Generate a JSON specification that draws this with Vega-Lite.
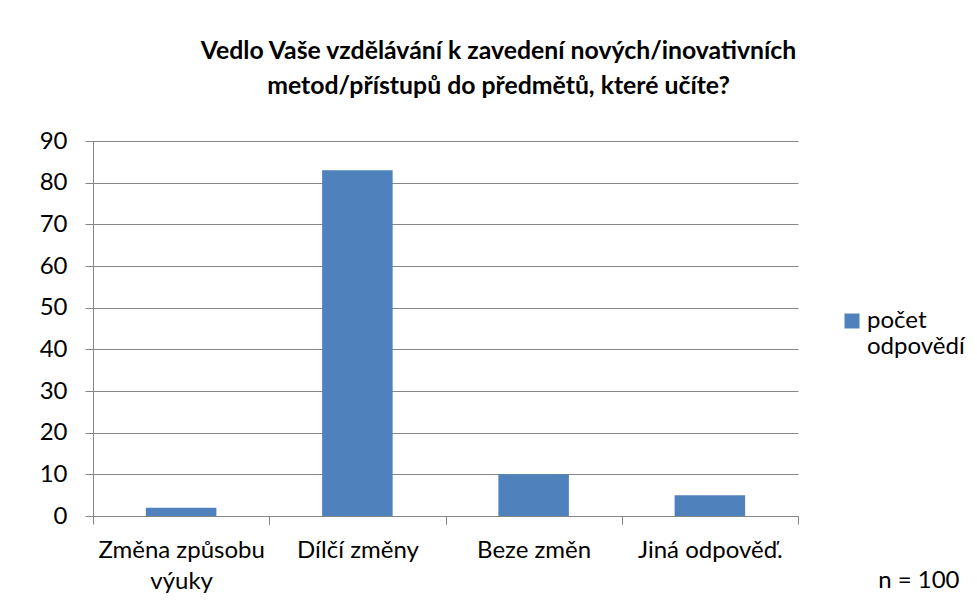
{
  "$schema": "https://vega.github.io/schema/vega-lite/v6.json",
  "width": 705,
  "height": 375,
  "autosize": {"type": "none"},
  "padding": {"left": 93, "top": 141, "right": 179, "bottom": 95},
  "background": "white",
  "title": {
    "text": ["Vedlo Vaše vzdělávání k zavedení nových/inovativních", "metod/přístupů do předmětů, které učíte?"],
    "font": "Lato",
    "fontSize": 24.8,
    "fontWeight": "bold",
    "color": "black",
    "lineHeight": 35,
    "anchor": "middle",
    "dx": 53,
    "offset": 30
  },
  "data": {
    "values": [
      {"odpoved": "Změna způsobu výuky", "pocet": 2, "serie": "počet odpovědí"},
      {"odpoved": "Dílčí změny", "pocet": 83, "serie": "počet odpovědí"},
      {"odpoved": "Beze změn", "pocet": 10, "serie": "počet odpovědí"},
      {"odpoved": "Jiná odpověď.", "pocet": 5, "serie": "počet odpovědí"}
    ]
  },
  "layer": [
    {
      "mark": {"type": "bar"},
      "encoding": {
        "x": {
          "field": "odpoved",
          "type": "nominal",
          "sort": null,
          "scale": {"paddingInner": 0.6, "paddingOuter": 0.3},
          "axis": {
            "orient": "bottom",
            "title": "n = 100",
            "titleFont": "Lato",
            "titleFontSize": 24,
            "titleFontWeight": "normal",
            "titleColor": "black",
            "titleAnchor": "end",
            "titleAlign": "right",
            "titleBaseline": "alphabetic",
            "titleX": 866,
            "titleY": 71,
            "labelExpr": "datum.value == 'Změna způsobu výuky' ? ['Změna způsobu', 'výuky'] : datum.value",
            "labelFont": "Lato",
            "labelFontSize": 24,
            "labelColor": "black",
            "labelAngle": 0,
            "labelPadding": 14,
            "labelLineHeight": 31,
            "bandPosition": 0,
            "tickOffset": -52.875,
            "labelOffset": 52.875,
            "tickSize": 8,
            "tickColor": "#868686",
            "domainColor": "#868686",
            "grid": false
          }
        },
        "y": {
          "field": "pocet",
          "type": "quantitative",
          "scale": {"domain": [0, 90]},
          "axis": {
            "title": null,
            "values": [0, 10, 20, 30, 40, 50, 60, 70, 80, 90],
            "labelFont": "Lato",
            "labelFontSize": 24,
            "labelColor": "black",
            "labelPadding": 18,
            "tickSize": 8,
            "tickColor": "#868686",
            "domainColor": "#868686",
            "gridColor": "#868686",
            "grid": true
          }
        },
        "color": {
          "field": "serie",
          "type": "nominal",
          "scale": {"range": ["#4F81BD"]},
          "legend": {
            "title": null,
            "orient": "none",
            "legendX": 747,
            "legendY": 168,
            "symbolType": "square",
            "symbolSize": 225,
            "symbolStrokeWidth": 0,
            "labelFont": "Lato",
            "labelFontSize": 24,
            "labelColor": "black",
            "labelOffset": 3,
            "labelExpr": "split(datum.label, ' ')",
            "labelLineHeight": 33,
            "labelBaseline": "middle"
          }
        }
      }
    },
    {
      "mark": {"type": "bar", "opacity": 0},
      "encoding": {
        "x": {
          "field": "odpoved",
          "type": "nominal",
          "sort": null,
          "axis": {
            "orient": "bottom",
            "title": null,
            "labels": false,
            "domain": false,
            "grid": false,
            "bandPosition": 1,
            "tickOffset": 52.875,
            "tickSize": 8,
            "tickColor": "#868686"
          }
        },
        "y": {"field": "pocet", "type": "quantitative"}
      }
    }
  ],
  "resolve": {"axis": {"x": "independent"}},
  "config": {"view": {"stroke": null}}
}
